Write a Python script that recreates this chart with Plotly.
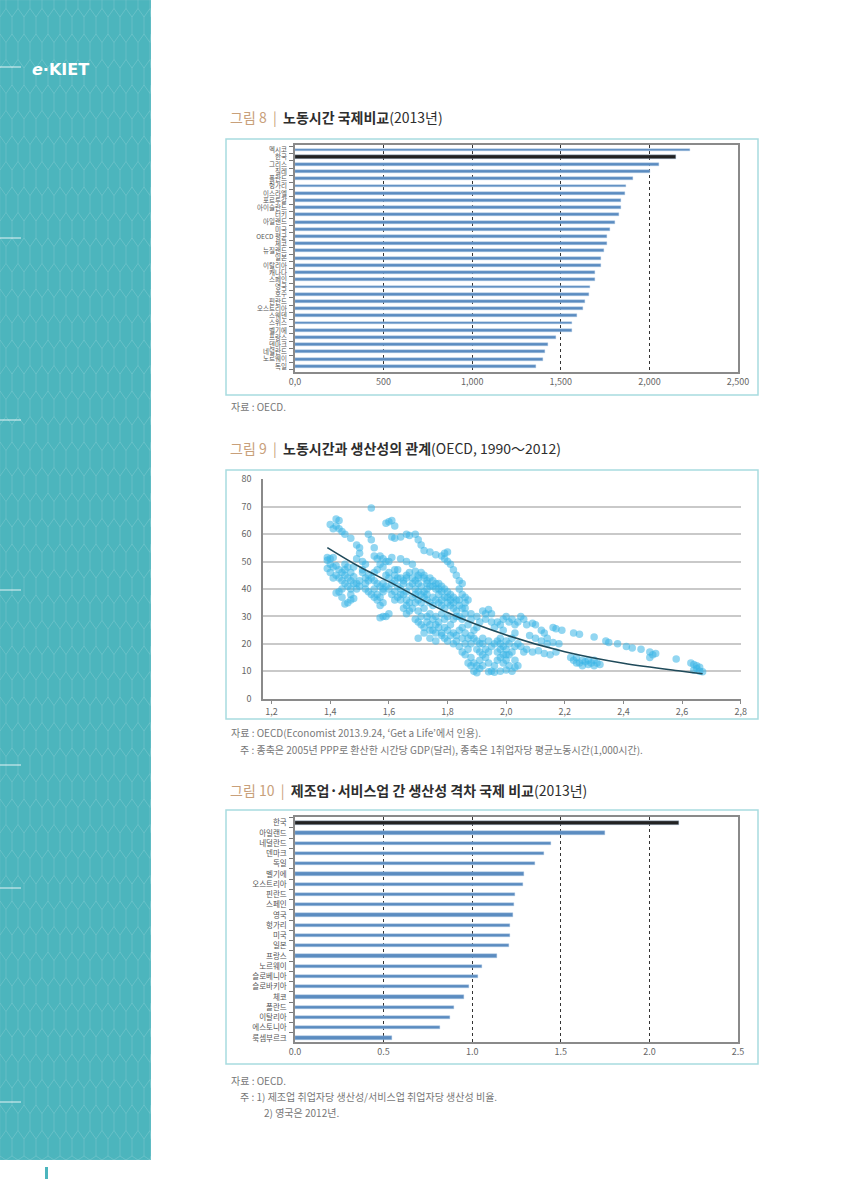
import plotly.graph_objects as go

W, H = 859, 1179
def px(x): return x / W
def py(y): return 1 - y / H

# ---------------- data: 그림 8 ----------------
hours_countries = ["멕시코", "한국", "그리스", "칠레", "폴란드", "헝가리", "이스라엘", "포르투갈",
                   "아이슬란드", "터키", "아일랜드", "미국", "OECD 평균", "체코", "뉴질랜드", "일본",
                   "이탈리아", "캐나다", "스페인", "영국", "호주", "핀란드", "오스트리아", "스웨덴",
                   "스위스", "벨기에", "프랑스", "덴마크", "네덜란드", "노르웨이", "독일"]
hours_values = [2231, 2152, 2053, 2002, 1908, 1870, 1861, 1840, 1840, 1827, 1808, 1778, 1758, 1759,
                1746, 1727, 1727, 1695, 1695, 1667, 1658, 1637, 1628, 1594, 1564, 1564, 1474, 1430,
                1412, 1400, 1361]
hours_ticks = [0, 500, 1000, 1500, 2000, 2500]
hours_ticktext = ["0,0", "500", "1,000", "1,500", "2,000", "2,500"]

# ---------------- data: 그림 9 ----------------
scatter_points = [
    (1.42, 65.5), (1.43, 65), (1.42, 63), (1.41, 62), (1.43, 62), (1.44, 61), (1.40, 63.5), (1.45, 60),
    (1.39, 51.5), (1.39, 50.5), (1.40, 51), (1.41, 51.5), (1.40, 49), (1.39, 47.5), (1.41, 48), (1.42, 48.5),
    (1.43, 47), (1.44, 46), (1.45, 45), (1.43, 44), (1.44, 43), (1.46, 44), (1.47, 43), (1.45, 42),
    (1.46, 41), (1.48, 42), (1.47, 40), (1.44, 40), (1.43, 39), (1.42, 38.5), (1.46, 35), (1.45, 34.5),
    (1.47, 36), (1.48, 36.5), (1.49, 42), (1.50, 43), (1.48, 44.5), (1.47, 46), (1.46, 48), (1.45, 49),
    (1.47, 58.5), (1.49, 56), (1.50, 55), (1.50, 53), (1.49, 51), (1.51, 50), (1.52, 49), (1.51, 46),
    (1.53, 45), (1.52, 44), (1.54, 44), (1.55, 43), (1.56, 42), (1.57, 41), (1.58, 40),
    (1.50, 41), (1.52, 40), (1.53, 39), (1.54, 38), (1.55, 37), (1.56, 38), (1.49, 40),
    (1.53, 60), (1.54, 58), (1.55, 55), (1.54, 69.5), (1.55, 52), (1.56, 51), (1.57, 52), (1.58, 51),
    (1.59, 50), (1.57, 49), (1.56, 47), (1.58, 48), (1.55, 46),
    (1.59, 64), (1.60, 64.5), (1.61, 65), (1.62, 63), (1.61, 59), (1.62, 58.5), (1.64, 59), (1.66, 60),
    (1.67, 59.5), (1.69, 60), (1.70, 58), (1.71, 56), (1.72, 54), (1.74, 53.5), (1.76, 52.5), (1.78, 52),
    (1.79, 53), (1.80, 53.5), (1.79, 51), (1.80, 50), (1.81, 49), (1.82, 47), (1.83, 45), (1.84, 43),
    (1.85, 42), (1.84, 40), (1.85, 38),
    (1.61, 51.5), (1.60, 50), (1.64, 51), (1.66, 50), (1.68, 49), (1.63, 47), (1.59, 45), (1.60, 44),
    (1.62, 43), (1.61, 42), (1.63, 41), (1.64, 44), (1.66, 45), (1.67, 46), (1.69, 46.5), (1.70, 45),
    (1.71, 46), (1.72, 44), (1.73, 43), (1.74, 44), (1.75, 43), (1.76, 42), (1.77, 42), (1.78, 41),
    (1.79, 40), (1.80, 39), (1.81, 38), (1.82, 37), (1.83, 36), (1.81, 36), (1.79, 37), (1.77, 38),
    (1.76, 40), (1.74, 41), (1.73, 40), (1.71, 41), (1.70, 42), (1.68, 42), (1.67, 41), (1.65, 42),
    (1.64, 40), (1.62, 39), (1.61, 38), (1.60, 40), (1.58, 39), (1.57, 37), (1.56, 36), (1.58, 35),
    (1.57, 34),
    (1.65, 38), (1.66, 36), (1.67, 35), (1.68, 37), (1.69, 38), (1.70, 36), (1.71, 35), (1.72, 37),
    (1.73, 36), (1.74, 35), (1.75, 34), (1.76, 36), (1.77, 35), (1.78, 34), (1.79, 33), (1.80, 35),
    (1.81, 34), (1.82, 33), (1.83, 32), (1.84, 34), (1.85, 33), (1.86, 35), (1.87, 36), (1.68, 33),
    (1.70, 32), (1.72, 33), (1.74, 31), (1.76, 30), (1.78, 31), (1.80, 30), (1.82, 29), (1.84, 30),
    (1.86, 31), (1.88, 29), (1.67, 32), (1.66, 31), (1.65, 33),
    (1.60, 31), (1.58, 30), (1.57, 29.5), (1.59, 30),
    (1.70, 28), (1.71, 27), (1.72, 26), (1.73, 28), (1.74, 27), (1.75, 25), (1.76, 27), (1.77, 26),
    (1.78, 24), (1.79, 26), (1.80, 25), (1.81, 27), (1.82, 24), (1.83, 23), (1.84, 25), (1.85, 26),
    (1.86, 24), (1.87, 22), (1.88, 23), (1.89, 22), (1.90, 21), (1.91, 20), (1.92, 22), (1.70, 22),
    (1.74, 22), (1.76, 21), (1.78, 23), (1.80, 21), (1.82, 20), (1.84, 19), (1.85, 17), (1.86, 16),
    (1.87, 18), (1.88, 15), (1.89, 13), (1.90, 12), (1.88, 12), (1.87, 13), (1.89, 10), (1.90, 9.5),
    (1.91, 14), (1.92, 16), (1.93, 18), (1.94, 17), (1.95, 19), (1.96, 20), (1.97, 21), (1.98, 20),
    (1.99, 19), (2.00, 18), (2.01, 16), (2.00, 14), (1.99, 13), (1.98, 15), (1.97, 14), (1.96, 12),
    (1.95, 10), (1.94, 9.8), (1.96, 9.6), (1.98, 10), (2.00, 10.5), (2.01, 12), (2.02, 10), (2.03, 11.5),
    (2.04, 12), (2.03, 14), (2.02, 17), (2.03, 19), (2.04, 20), (1.98, 22), (2.00, 21), (1.94, 21),
    (1.92, 20),
    (1.92, 32), (1.93, 31), (1.94, 32.5), (1.95, 31), (1.93, 29), (1.95, 28), (1.97, 28), (1.99, 29),
    (2.00, 30), (2.01, 28), (2.02, 29), (2.03, 27), (2.04, 28), (2.05, 30), (2.06, 29), (1.98, 27),
    (1.96, 26), (1.99, 25),
    (2.07, 27), (2.09, 27.5), (2.10, 27), (2.12, 25), (2.13, 24), (2.14, 22), (2.16, 26), (2.17, 25.5),
    (2.19, 25), (2.08, 23), (2.10, 22), (2.12, 21), (2.14, 20), (2.16, 20.5), (2.18, 20), (2.07, 18),
    (2.09, 17), (2.11, 17.5), (2.13, 16.5), (2.15, 16), (2.17, 17), (2.05, 19), (2.06, 17),
    (2.23, 24), (2.25, 23.5), (2.24, 15), (2.23, 14), (2.25, 13), (2.26, 14), (2.27, 13.5), (2.28, 14),
    (2.29, 13), (2.30, 14), (2.31, 13), (2.32, 12.5), (2.30, 12), (2.28, 12.5), (2.26, 12), (2.24, 13),
    (2.22, 15),
    (2.30, 22.5), (2.34, 21), (2.35, 20.5), (2.38, 20), (2.41, 19), (2.43, 18.5), (2.46, 18), (2.49, 17),
    (2.50, 16), (2.51, 16.5), (2.49, 15), (2.58, 14.5), (2.63, 13), (2.64, 12.5), (2.65, 11), (2.64, 10.5),
    (2.66, 10), (2.67, 9.8), (2.66, 11.5), (2.65, 12),
    (1.62, 45), (1.63, 44), (1.65, 43), (1.66, 44), (1.68, 44), (1.69, 43), (1.70, 44), (1.72, 45),
    (1.73, 42), (1.75, 41), (1.77, 40), (1.78, 39), (1.72, 39), (1.70, 39), (1.69, 40), (1.66, 39),
    (1.64, 38), (1.63, 37), (1.62, 36), (1.64, 36), (1.66, 34), (1.69, 35), (1.71, 38), (1.73, 38),
    (1.75, 37), (1.78, 36), (1.80, 37), (1.82, 35), (1.84, 36), (1.86, 37), (1.86, 33), (1.83, 30),
    (1.79, 29), (1.77, 28), (1.75, 29), (1.73, 30), (1.71, 30), (1.69, 29), (1.72, 24), (1.74, 25),
    (1.76, 24), (1.79, 22), (1.81, 23), (1.83, 21), (1.85, 22), (1.86, 20), (1.88, 20), (1.90, 18),
    (1.91, 17), (1.93, 15), (1.94, 13), (1.92, 12), (1.91, 11), (1.97, 17), (1.98, 18), (1.99, 16),
    (2.00, 16), (2.01, 20), (2.02, 22), (2.03, 24), (1.87, 27), (1.89, 25), (1.90, 26), (1.91, 28),
    (1.88, 31), (1.90, 30), (1.85, 29), (1.58, 42), (1.59, 41), (1.60, 46), (1.62, 47), (1.55, 40),
    (1.52, 42), (1.47, 38), (1.44, 37), (1.41, 44), (1.40, 46), (1.42, 45), (1.45, 47), (1.48, 48),
    (1.51, 47), (1.53, 43),
]
trend_x = [1.39, 1.5, 1.6, 1.8, 2.0, 2.2, 2.4, 2.6, 2.67]
trend_y = [55.1, 48.1, 42.7, 31.4, 23.2, 17.1, 12.9, 10.0, 9.1]
sc_xticks = [1.2, 1.4, 1.6, 1.8, 2.0, 2.2, 2.4, 2.6, 2.8]
sc_xticktext = ["1,2", "1,4", "1,6", "1,8", "2,0", "2,2", "2,4", "2,6", "2,8"]
sc_yticks = [0, 10, 20, 30, 40, 50, 60, 70, 80]

# ---------------- data: 그림 10 ----------------
gap_countries = ["한국", "아일랜드", "네덜란드", "덴마크", "독일", "벨기에", "오스트리아", "핀란드",
                 "스페인", "영국", "헝가리", "미국", "일본", "프랑스", "노르웨이", "슬로베니아",
                 "슬로바키아", "체코", "폴란드", "이탈리아", "에스토니아", "룩셈부르크"]
gap_values = [2.167, 1.748, 1.444, 1.406, 1.357, 1.293, 1.284, 1.242, 1.235, 1.231, 1.212, 1.212,
              1.207, 1.139, 1.055, 1.032, 0.981, 0.953, 0.898, 0.874, 0.821, 0.549]
gap_ticks = [0, 0.5, 1.0, 1.5, 2.0, 2.5]
gap_ticktext = ["0.0", "0.5", "1.0", "1.5", "2.0", "2.5"]

# ---------------- styling ----------------
FONT = "Noto Sans CJK KR"
BAR = "#5b8cc0"
KOREA = "#222222"
TICKC = "#666666"
TEAL = "#4cb5bd"

fig = go.Figure()

def colors(cats):
    return [KOREA if c == "한국" else BAR for c in cats]

def widths(cats, w, wk):
    return [wk if c == "한국" else w for c in cats]

pos8 = list(range(len(hours_countries)))
pos10 = list(range(len(gap_countries)))

fig.add_trace(go.Bar(x=hours_values, y=pos8, orientation="h",
                     width=widths(hours_countries, 0.4, 0.5),
                     marker=dict(color=colors(hours_countries), line=dict(color="#a9c8e6", width=0.4)),
                     xaxis="x", yaxis="y", showlegend=False))

fig.add_trace(go.Scatter(x=[p[0] for p in scatter_points], y=[p[1] for p in scatter_points],
                         mode="markers", marker=dict(color="#38b4e6", size=7.5, opacity=0.55),
                         xaxis="x2", yaxis="y2", showlegend=False))
fig.add_trace(go.Scatter(x=trend_x, y=trend_y, mode="lines", line=dict(color="#1f4a5a", width=1.6, shape="spline"),
                         xaxis="x2", yaxis="y2", showlegend=False))

fig.add_trace(go.Bar(x=gap_values, y=pos10, orientation="h",
                     width=widths(gap_countries, 0.34, 0.42),
                     marker=dict(color=colors(gap_countries), line=dict(color="#a9c8e6", width=0.4)),
                     xaxis="x3", yaxis="y3", showlegend=False))

n8 = len(hours_countries)
n10 = len(gap_countries)
tickfont = dict(family=FONT, size=9, color=TICKC)

def cat_axis(domain, anchor, labels, rng, fsize):
    return dict(domain=domain, anchor=anchor, range=rng, tickmode="array",
                tickvals=list(range(len(labels))), ticktext=labels,
                tickfont=dict(family=FONT, size=fsize, color="#555555"), ticks="", ticklabelstandoff=5,
                minor=dict(tick0=-0.5, dtick=1, ticks="outside", ticklen=4, tickcolor="#777777", showgrid=False),
                showline=True, linecolor="#8a8a8a", linewidth=1.5, mirror=True, showgrid=False,
                zeroline=False, automargin=False)

fig.update_layout(
    width=W, height=H, margin=dict(l=0, r=0, t=0, b=0, pad=0, autoexpand=False),
    paper_bgcolor="white", plot_bgcolor="white", bargap=0,
    xaxis=dict(domain=[px(295), px(738)], anchor="y", range=[0, 2500], tickvals=hours_ticks,
               ticktext=hours_ticktext, tickfont=tickfont, showgrid=True, gridcolor="#333333",
               griddash="dot", gridwidth=1, showline=True, linecolor="#8a8a8a", linewidth=1.5,
               mirror=True, ticks="", zeroline=False, automargin=False),
    yaxis=cat_axis([py(372), py(145)], "x", hours_countries, [n8 - 1 + 0.79, -0.69], 6.5),
    xaxis2=dict(domain=[px(263), px(740.7)], anchor="y2", range=[1.1706, 2.8], tickvals=sc_xticks,
                ticktext=sc_xticktext, tickfont=tickfont, showgrid=False, showline=True,
                linecolor="#8a8a8a", linewidth=1.5, ticks="outside", ticklen=4, tickcolor="#8a8a8a",
                zeroline=False, automargin=False),
    yaxis2=dict(domain=[py(698.7), py(479.3)], anchor="x2", range=[0, 80], tickvals=sc_yticks,
                tickfont=tickfont, showgrid=True, gridcolor="#c9c9c9", gridwidth=1.5, showline=True,
                linecolor="#8a8a8a", linewidth=1.5, zeroline=False, ticks="", ticklabelstandoff=8,
                automargin=False),
    xaxis3=dict(domain=[px(295), px(738)], anchor="y3", range=[0, 2.5], tickvals=gap_ticks,
                ticktext=gap_ticktext, tickfont=tickfont, showgrid=True, gridcolor="#333333",
                griddash="dot", gridwidth=1, showline=True, linecolor="#8a8a8a", linewidth=1.5,
                mirror=True, ticks="", zeroline=False, automargin=False),
    yaxis3=cat_axis([py(1042), py(817)], "x3", gap_countries, [n10 - 1 + 0.39, -0.56], 7.5),
)

shapes = []
# sidebar
shapes.append(dict(type="rect", xref="paper", yref="paper", x0=0, x1=px(151), y0=py(1160), y1=1,
                   fillcolor=TEAL, line=dict(width=0), layer="below"))
# faint honeycomb texture on the sidebar
cw, ch = 12.0, 34.0
segs = []
row = 0
cy = 0.0
while cy < 1160 + ch:
    off = (cw / 2) if row % 2 else 0.0
    cx = off
    while cx < 151 + cw:
        pts = [(cx, cy - ch / 2), (cx + cw / 2, cy - ch / 4), (cx + cw / 2, cy + ch / 4),
               (cx, cy + ch / 2), (cx - cw / 2, cy + ch / 4), (cx - cw / 2, cy - ch / 4)]
        pts = [(min(max(a, 0), 151), min(max(b, 0), 1160)) for a, b in pts]
        segs.append("M" + " L".join(f"{px(a):.5f},{py(b):.5f}" for a, b in pts) + " Z")
        cx += cw
    cy += ch * 0.75
    row += 1
shapes.append(dict(type="path", xref="paper", yref="paper", path=" ".join(segs),
                   line=dict(color="rgba(255,255,255,0.08)", width=1), layer="below"))
for yy in [67, 238, 420, 590, 765, 888, 1102]:
    shapes.append(dict(type="line", xref="paper", yref="paper", x0=0, x1=px(21), y0=py(yy), y1=py(yy),
                       line=dict(color="rgba(255,255,255,0.85)", width=1)))
# page-number bar
shapes.append(dict(type="rect", xref="paper", yref="paper", x0=px(45), x1=px(48), y0=0, y1=py(1167),
                   fillcolor=TEAL, line=dict(width=0)))
# chart frames
for (t, b) in [(139, 395), (470, 719), (810, 1064)]:
    shapes.append(dict(type="rect", xref="paper", yref="paper", x0=px(226), x1=px(758), y0=py(b), y1=py(t),
                       line=dict(color="#a8dbe0", width=1.5), fillcolor="rgba(0,0,0,0)", layer="below"))
fig.update_layout(shapes=shapes)

ann = []
def text(x, y, s, size=10, color="#777777", anchor="left"):
    ann.append(dict(xref="paper", yref="paper", x=px(x), y=py(y), text=s, showarrow=False,
                    xanchor=anchor, yanchor="middle", font=dict(family=FONT, size=size, color=color)))

TAN = "#c8a07a"
DARK = "#2e2e2e"
def title(y, num, bold, rest):
    text(228, y, f"<span style='color:{TAN}'>그림 {num}  |  </span><b>{bold}</b>{rest}", size=14, color=DARK)

title(117, 8, "노동시간 국제비교", "(2013년)")
title(448, 9, "노동시간과 생산성의 관계", "(OECD, 1990～2012)")
title(790, 10, "제조업·서비스업 간 생산성 격차 국제 비교", "(2013년)")

text(229, 407, "자료 : OECD.")
text(229, 733, "자료 : OECD(Economist 2013.9.24, ‘Get a Life’에서 인용).")
text(238, 749, "주 : 종축은 2005년 PPP로 환산한 시간당 GDP(달러), 종축은 1취업자당 평균노동시간(1,000시간).")
text(229, 1080, "자료 : OECD.")
text(238, 1096, "주 : 1) 제조업 취업자당 생산성/서비스업 취업자당 생산성 비율.")
text(262, 1112, "2) 영국은 2012년.")

# logo
ann.append(dict(xref="paper", yref="paper", x=px(30), y=py(70), text="<b><i>e</i>·KIET</b>", showarrow=False,
                xanchor="left", yanchor="middle", font=dict(family="DejaVu Sans", size=16, color="white")))
fig.update_layout(annotations=ann)

fig.write_html("out.html", post_script="document.body.style.margin='0';document.body.style.padding='0';")
